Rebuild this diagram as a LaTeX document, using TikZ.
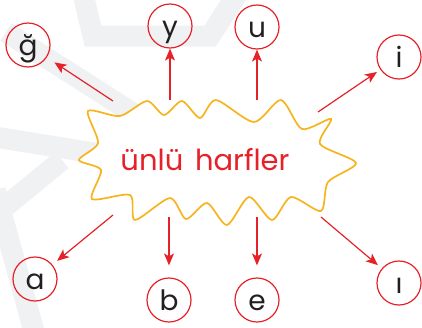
\documentclass[tikz,border=0pt]{standalone}
\usepackage{fontspec}
\setmainfont{Poppins}
\usetikzlibrary{arrows.meta}
\definecolor{redc}{HTML}{E62129}
\definecolor{yel}{HTML}{F6B41E}
\definecolor{wm}{HTML}{F0F1F3}
\definecolor{ink}{HTML}{231F20}
\begin{document}
\begin{tikzpicture}[x=1pt,y=-1pt,
  letter/.style={circle, draw=redc, line width=1.2pt, minimum size=44pt, inner sep=0pt,
    text=ink, text height=20pt, text depth=0pt, font=\fontsize{28}{28}\selectfont},
  arr/.style={draw=redc, line width=1.2pt, -{Stealth[length=12pt,width=10pt,inset=3pt]}},
  wmark/.style={draw=wm, line width=21pt},
  blob/.style={draw=yel, line width=1.7pt}]
\useasboundingbox (0,0) rectangle (422,327);
% watermark
\draw[wmark] (6,32) -- (150,124);
\draw[wmark] (82,-10) -- (93,36) -- (210,36) -- (240,-10);
\draw[wmark] (-5,137) -- (100,154);
\draw[wmark] (62,160) -- (-5,215);
\draw[wmark] (-5,190) -- (35,335);
% starburst
\draw[blob, fill=white] plot[smooth cycle, tension=0.45] coordinates {
 (88,111) (120,116) (147,101) (164,115) (182,101) (200,118) (216,100) (254,122)
 (281,100) (302,129) (331,119) (320,144) (356,163) (328,182) (321,211) (291,197)
 (272,220) (249,197) (227,225) (207,203) (186,219) (170,198) (135,220) (130,195)
 (92,199) (101,170) (79,160) (98,143)};
\node[text=redc, font=\fontsize{29}{29}\selectfont] (title) at (205,160) {ünlü\hspace{4pt} harfler};
% letters
\node[letter] (g) at (28,45) {ğ};
\node[letter] (y) at (170,26) {y};
\node[letter] (u) at (257,27) {u};
\node[letter] (i) at (399,57) {i};
\node[letter] (a) at (35,279) {a};
\node[letter] (b) at (169,300) {b};
\node[letter] (e) at (257,300) {e};
\node[letter] (idot) at (399,283) {ı};
% arrow starts
\coordinate (s1) at (113,101);
\coordinate (s2) at (170,100);
\coordinate (s3) at (257,100);
\coordinate (s4) at (318,112);
\coordinate (s5) at (113,215);
\coordinate (s6) at (169,217);
\coordinate (s7) at (257,217);
\coordinate (s8) at (321,217);
\draw[arr, shorten >=9pt] (s1) -- (g);
\draw[arr] (s2) -- (y);
\draw[arr] (s3) -- (u);
\draw[arr, shorten >=4pt] (s4) -- (i);
\draw[arr, shorten >=6pt] (s5) -- (a);
\draw[arr, shorten >=12pt] (s6) -- (b);
\draw[arr, shorten >=12pt] (s7) -- (e);
\draw[arr, shorten >=5pt] (s8) -- (idot);
\end{tikzpicture}
\end{document}
